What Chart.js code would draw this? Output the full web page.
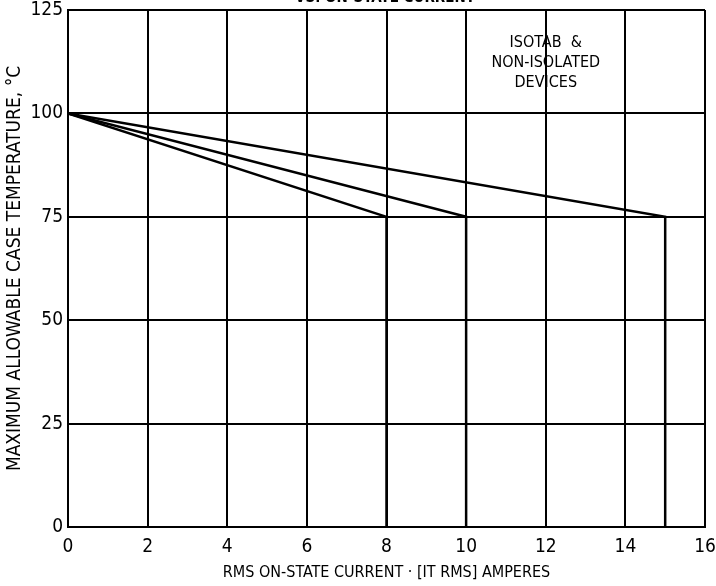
<!DOCTYPE html>
<html lang="en">
<head>
  <meta charset="UTF-8" />
  <title>Case Temperature vs. On-State Current</title>
  <script src="https://cdn.jsdelivr.net/npm/chart.js"></script>
  <style>
    body { margin: 0; background: #fff; }
    #wrap { width: 716px; height: 586px; }
  </style>
</head>
<body>
  <div id="wrap"><canvas id="chart" width="716" height="586"></canvas></div>

  <script>
    // curve data: rated current lines (derating from 100 C down to 75 C)
    const curveA_x = [0, 8, 8];
    const curveA_y = [100, 75, 0];
    const curveB_x = [0, 10, 10];
    const curveB_y = [100, 75, 0];
    const curveC_x = [0, 15, 15];
    const curveC_y = [100, 75, 0];

    const xTicks = [0, 2, 4, 6, 8, 10, 12, 14, 16];
    const yTicks = [0, 25, 50, 75, 100, 125];

    const noteLines = ['ISOTAB  &', 'NON-ISOLATED', 'DEVICES'];
    const noteAt = { x: 12, y: 117 };

    const FONT = "'Liberation Sans Narrow', 'DejaVu Sans Condensed', sans-serif";

    function pts(xs, ys) {
      return xs.map((x, i) => ({ x: x, y: ys[i] }));
    }

    function lineSet(xs, ys) {
      return {
        data: pts(xs, ys),
        showLine: true,
        borderColor: '#000',
        borderWidth: 2.5,
        pointRadius: 0,
        tension: 0
      };
    }

    // text in the plot and the clipped heading at the top
    const notes = {
      id: 'notes',
      afterDraw(chart) {
        const ctx = chart.ctx;
        const xs = chart.scales.x, ys = chart.scales.y;
        ctx.save();
        ctx.fillStyle = '#000';
        ctx.textAlign = 'center';
        ctx.textBaseline = 'middle';
        ctx.font = '16px ' + FONT;
        const cx = xs.getPixelForValue(noteAt.x);
        const cy = ys.getPixelForValue(noteAt.y);
        noteLines.forEach((t, i) => ctx.fillText(t, cx, cy + i * 20));
        // heading cut off by the top edge
        ctx.font = 'bold 15px ' + FONT;
        ctx.textBaseline = 'alphabetic';
        ctx.fillText('VS. ON-STATE CURRENT', 385, 2);
        ctx.restore();
      }
    };

    new Chart(document.getElementById('chart'), {
      type: 'scatter',
      data: {
        datasets: [
          lineSet(curveA_x, curveA_y),
          lineSet(curveB_x, curveB_y),
          lineSet(curveC_x, curveC_y)
        ]
      },
      options: {
        responsive: false,
        animation: false,
        layout: { padding: { top: 10, right: 11, left: 0, bottom: 0 } },
        plugins: {
          legend: { display: false },
          tooltip: { enabled: false }
        },
        scales: {
          x: {
            type: 'linear',
            min: 0,
            max: 16,
            afterBuildTicks: s => { s.ticks = xTicks.map(v => ({ value: v })); },
            afterFit: s => {
              s.height = 59;
              s.paddingLeft = 0;
              s.paddingRight = 0;
            },
            grid: { color: '#000', lineWidth: 2, drawTicks: false },
            border: { color: '#000', width: 2 },
            ticks: {
              color: '#000',
              padding: 9,
              font: { family: FONT, size: 19 }
            },
            title: {
              display: true,
              text: 'RMS ON-STATE CURRENT · [IT RMS] AMPERES',
              color: '#000',
              padding: { top: 0 },
              font: { family: FONT, size: 16 }
            }
          },
          y: {
            type: 'linear',
            min: 0,
            max: 125,
            afterBuildTicks: s => { s.ticks = yTicks.map(v => ({ value: v })); },
            afterFit: s => {
              s.width = 68;
              s.paddingTop = 0;
              s.paddingBottom = 0;
            },
            grid: { color: '#000', lineWidth: 2, drawTicks: false },
            border: { color: '#000', width: 2 },
            ticks: {
              color: '#000',
              padding: 5,
              font: { family: FONT, size: 19 }
            },
            title: {
              display: true,
              text: 'MAXIMUM ALLOWABLE CASE TEMPERATURE, °C',
              color: '#000',
              padding: { bottom: 0 },
              font: { family: FONT, size: 19 }
            }
          }
        }
      },
      plugins: [notes]
    });
  </script>
</body>
</html>
